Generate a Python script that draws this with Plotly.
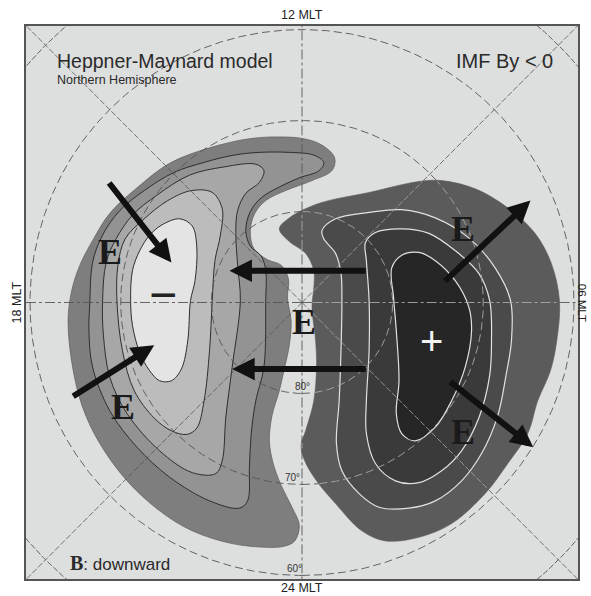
import numpy as np
import plotly.graph_objects as go

# ---------------------------------------------------------------------------
# Polar-view coordinates: degrees of colatitude from the magnetic pole,
# x toward 06 MLT (dawn), y toward 12 MLT (noon).
# ---------------------------------------------------------------------------

# Negative (dusk) potential cell, outermost outline first
NEG_OUTER = [(-25.8, -2.0), (-25.4, 1.3), (-24.5, 4.1), (-23.1, 6.8), (-21.2, 9.8),
             (-18.2, 12.6), (-14.6, 15.3), (-10.2, 17.0), (-5.8, 18.0), (-2.5, 18.2),
             (0.2, 18.0), (2.2, 17.3), (3.6, 15.9), (3.3, 14.5), (1.1, 13.4),
             (-1.8, 12.3), (-4.0, 11.2), (-5.2, 9.8), (-5.7, 7.9), (-5.3, 5.9),
             (-3.8, 4.7), (-2.3, 4.1), (-1.5, 2.6), (-1.6, 0.5), (-1.2, -2.0),
             (-1.4, -4.7), (-2.0, -7.5), (-2.5, -9.7), (-3.3, -12.4), (-3.6, -15.2),
             (-3.2, -17.6), (-2.3, -20.1), (-1.1, -22.5), (-0.3, -24.5), (-0.8, -26.2),
             (-2.0, -26.8), (-4.0, -26.9), (-7.7, -26.5), (-12.1, -25.1), (-15.7, -22.9),
             (-19.3, -19.6), (-22.3, -15.5), (-24.2, -11.5), (-25.3, -7.1)]
NEG_C1 = [(-23.4, 0.0), (-23.5, -3.1), (-23.1, -7.1), (-21.2, -11.9), (-18.2, -15.9),
          (-14.6, -19.2), (-10.2, -21.8), (-6.9, -22.6), (-6.0, -21.8), (-5.8, -18.1),
          (-5.6, -14.4), (-5.1, -10.8), (-4.2, -7.1), (-4.0, 0.2), (-4.0, 3.5),
          (-4.5, 5.1), (-5.7, 6.2), (-6.2, 7.9), (-5.7, 10.0), (-4.5, 11.5),
          (-2.5, 12.7), (-0.3, 13.7), (1.9, 14.5), (2.4, 15.4), (1.3, 16.2),
          (-1.4, 16.5), (-4.7, 16.5), (-7.5, 16.2), (-10.8, 15.4), (-14.1, 14.3),
          (-17.4, 12.3), (-20.1, 10.1), (-22.0, 7.4), (-23.1, 4.4)]
NEG_C2 = [(-22.0, 0.0), (-21.9, -3.6), (-21.2, -8.2), (-19.3, -12.2), (-15.7, -16.3),
          (-12.1, -18.7), (-9.5, -18.8), (-8.8, -17.4), (-8.4, -12.6), (-7.7, -7.1),
          (-6.8, 0.2), (-7.1, 4.1), (-7.3, 7.7), (-7.1, 10.1), (-6.2, 12.0),
          (-4.7, 13.2), (-4.2, 14.5), (-5.1, 15.2), (-8.6, 14.9), (-12.4, 14.0),
          (-16.0, 11.8), (-18.7, 9.6), (-20.5, 7.0), (-21.6, 4.4)]
NEG_C3 = [(-20.4, 0.0), (-19.8, -5.3), (-18.5, -9.7), (-16.3, -12.7), (-14.4, -14.1),
          (-12.7, -14.5), (-11.6, -13.8), (-10.8, -10.8), (-10.2, -5.3), (-9.9, 0.2),
          (-9.6, 4.6), (-9.0, 7.4), (-8.8, 10.3), (-9.9, 12.1), (-12.2, 12.3),
          (-14.8, 11.2), (-17.4, 9.2), (-19.5, 7.0), (-20.3, 4.1)]
NEG_CORE = [(-18.9, 0.2), (-18.7, -2.5), (-17.9, -5.5), (-16.8, -7.5), (-15.7, -8.6),
            (-14.4, -8.6), (-13.3, -7.3), (-12.6, -4.2), (-12.3, 0.2), (-11.8, 2.4),
            (-11.6, 6.0), (-12.1, 8.4), (-13.5, 9.2), (-15.5, 8.5), (-16.8, 7.4),
            (-17.9, 5.7), (-18.7, 3.5)]

# Positive (dawn) potential cell, outermost outline first
POS_OUTER = [(28.4, 0.2), (28.1, -4.2), (27.4, -7.5), (26.0, -10.8), (24.9, -14.4),
             (22.7, -17.7), (20.2, -21.0), (16.5, -24.3), (12.9, -25.8), (9.2, -26.2),
             (6.6, -25.1), (3.7, -22.1), (1.6, -19.6), (0.3, -17.4), (-0.1, -15.7),
             (0.4, -14.1), (1.3, -10.8), (1.6, -7.1), (1.5, -4.2), (1.1, -0.5),
             (1.3, 1.6), (1.3, 3.5), (0.4, 5.4), (-1.4, 6.7), (-2.5, 8.1),
             (-1.4, 9.3), (1.9, 10.9), (7.4, 12.1), (12.9, 13.3), (15.4, 13.4),
             (19.1, 12.5), (22.7, 10.4), (25.7, 7.6), (27.5, 4.3)]
POS_C1 = [(23.0, 0.2), (23.1, -4.2), (22.5, -8.0), (21.6, -12.4), (19.8, -16.6),
          (17.6, -19.6), (14.7, -21.8), (11.8, -22.6), (8.5, -22.5), (6.3, -21.0),
          (4.4, -18.5), (3.8, -15.5), (4.1, -10.8), (4.3, -5.3), (4.4, 0.2),
          (4.3, 3.2), (3.7, 5.4), (2.4, 7.0), (2.2, 7.9), (3.7, 9.2),
          (7.4, 9.9), (11.0, 10.2), (14.7, 9.3), (18.4, 7.1), (21.3, 3.8)]
POS_C2 = [(20.7, 0.2), (20.9, -4.2), (20.7, -8.0), (19.5, -12.7), (17.6, -16.3),
          (15.4, -18.5), (12.9, -19.8), (10.3, -19.6), (8.1, -17.7), (7.1, -14.4),
          (7.1, -10.8), (7.4, -5.3), (7.4, 0.2), (7.1, 4.6), (7.0, 6.6),
          (8.1, 7.7), (11.0, 8.1), (14.0, 7.6), (16.9, 5.7), (19.5, 3.2)]
POS_CORE = [(18.4, -0.5), (18.7, -3.1), (18.0, -7.1), (16.5, -10.8), (14.7, -13.7),
            (12.5, -15.2), (11.0, -14.4), (10.4, -12.2), (10.7, -8.6), (10.4, -3.1),
            (10.1, 0.5), (9.9, 3.8), (11.0, 5.2), (12.9, 5.5), (14.7, 4.6),
            (16.9, 2.4)]

NEG_LEVELS = [NEG_OUTER, NEG_C1, NEG_C2, NEG_C3, NEG_CORE]
NEG_FILLS = ["#7e7e7e", "#939393", "#a7a7a7", "#bcbcbc", "#e4e4e4"]
POS_LEVELS = [POS_OUTER, POS_C1, POS_C2, POS_CORE]
POS_FILLS = ["#5b5b5b", "#4a4a4a", "#3a3a3a", "#262626"]

# Electric field arrows: (tail, head)
E_ARROWS = [((-21.4, 13.3), (-14.4, 4.4)), ((-25.4, -10.4), (-16.3, -4.7)),
            ((7.2, 3.5), (-8.0, 3.5)), ((7.2, -7.3), (-7.7, -7.3)),
            ((15.6, 2.2), (25.2, 11.2)), ((16.2, -8.6), (25.5, -15.9))]
E_LABELS = [(-21.2, 5.6), (-19.7, -11.5), (0.2, -2.1), (17.8, 8.1), (17.8, -14.2)]

# Grid: latitude circles, MLT meridians
LAT_CIRCLES = [80, 70, 60, 50]
LAT_LABELS = [80, 70, 60]
LAT_LABEL_DX = [0.1, -1.0, -0.8]
MLT_MAIN = [0, 6, 12, 18]
MLT_DIAG = [3, 9, 15, 21]
MLT_LABELS = {"12 MLT": (0.5, 1.0205, 0, 12.5), "24 MLT": (0.5, -0.0165, 0, 12.5),
              "18 MLT": (-0.0165, 0.5, -90, 12.5), "06 MLT": (1.0085, 0.5, 90, 11.5)}

HALF = 30.44  # half width of the square view, degrees


def closed(pts):
    xs = [p[0] for p in pts] + [pts[0][0]]
    ys = [p[1] for p in pts] + [pts[0][1]]
    return xs, ys


def inside_poly(px, py, poly):
    xs = np.array([p[0] for p in poly])
    ys = np.array([p[1] for p in poly])
    res = np.zeros(px.shape, dtype=bool)
    j = len(xs) - 1
    for i in range(len(xs)):
        crosses = (ys[i] > py) != (ys[j] > py)
        xint = (xs[j] - xs[i]) * (py - ys[i]) / (ys[j] - ys[i] + 1e-12) + xs[i]
        res ^= crosses & (px < xint)
        j = i
    return res


fig = go.Figure()

# contour cells
for k, (pts, col) in enumerate(zip(NEG_LEVELS, NEG_FILLS)):
    xs, ys = closed(pts)
    fig.add_trace(go.Scatter(
        x=xs, y=ys, mode="lines", fill="toself", fillcolor=col,
        line=dict(color="#5a5a5a" if k == 0 else "#2e2e2e",
                  width=0.7 if k == 0 else 1.0, shape="spline", smoothing=1.0),
        hoverinfo="skip"))
for k, (pts, col) in enumerate(zip(POS_LEVELS, POS_FILLS)):
    xs, ys = closed(pts)
    fig.add_trace(go.Scatter(
        x=xs, y=ys, mode="lines", fill="toself", fillcolor=col,
        line=dict(color=col if k == 0 else "#e2e2e2",
                  width=0.6 if k == 0 else 1.2, shape="spline", smoothing=1.0),
        hoverinfo="skip"))


def grid_line(x, y, dash, width):
    x = np.asarray(x, float)
    y = np.asarray(y, float)
    ins = inside_poly(x, y, POS_OUTER)
    fig.add_trace(go.Scatter(x=np.where(ins, np.nan, x), y=np.where(ins, np.nan, y),
                             mode="lines", line=dict(color="#555555", width=width, dash=dash),
                             hoverinfo="skip"))
    fig.add_trace(go.Scatter(x=np.where(ins, x, np.nan), y=np.where(ins, y, np.nan),
                             mode="lines", line=dict(color="#a8a8a8", width=width, dash=dash),
                             hoverinfo="skip"))


theta = np.linspace(0, 2 * np.pi, 1441)
for lat in LAT_CIRCLES:
    r = 90 - lat
    grid_line(r * np.sin(theta), -r * np.cos(theta),
              "8px,4px" if lat >= 60 else "6px,2px", 0.9)

rr = np.linspace(0, 45, 500)
for mlt in MLT_MAIN:
    a = np.deg2rad(mlt * 15)
    grid_line(rr * np.sin(a), -rr * np.cos(a), "10px,3px,3px,3px", 0.9)
for mlt in MLT_DIAG:
    a = np.deg2rad(mlt * 15)
    grid_line(rr * np.sin(a), -rr * np.cos(a), "6px,2px", 0.8)

annotations = []

# field arrows
for (tx, ty), (hx, hy) in E_ARROWS:
    annotations.append(dict(x=hx, y=hy, ax=tx, ay=ty, xref="x", yref="y",
                            axref="x", ayref="y", text="", showarrow=True,
                            arrowhead=2, arrowsize=0.75, arrowwidth=6,
                            arrowcolor="#111111", standoff=0))

for ex, ey in E_LABELS:
    annotations.append(dict(x=ex, y=ey, xref="x", yref="y", text="E", showarrow=False,
                            xanchor="center", yanchor="middle",
                            font=dict(family="Liberation Serif, Times New Roman, serif",
                                      size=36, color="#1a1a1a", weight="bold")))

# potential signs
annotations.append(dict(x=-15.3, y=0.9, xref="x", yref="y", text="\u2212", showarrow=False,
                        xanchor="center", yanchor="middle",
                        font=dict(family="Liberation Sans, Arial", size=48, color="#222222")))
annotations.append(dict(x=14.3, y=-4.2, xref="x", yref="y", text="+", showarrow=False,
                        xanchor="center", yanchor="middle",
                        font=dict(family="Liberation Sans, Arial", size=40, color="#f2f2f2")))

# latitude labels
for lat, dx in zip(LAT_LABELS, LAT_LABEL_DX):
    annotations.append(dict(x=dx, y=-(90 - lat) + 0.8, xref="x", yref="y",
                            text=f"{lat}\u00b0", showarrow=False,
                            xanchor="center", yanchor="middle",
                            font=dict(family="Liberation Sans, Arial", size=10, color="#333333")))

# MLT labels
for txt, (px, py, ang, fs) in MLT_LABELS.items():
    annotations.append(dict(x=px, y=py, xref="paper", yref="paper", text=txt,
                            showarrow=False, textangle=ang,
                            xanchor="center", yanchor="middle",
                            font=dict(family="Liberation Sans, Arial", size=fs, color="#222222")))

# headings
annotations += [
    dict(x=0.052, y=0.937, xref="paper", yref="paper", xanchor="left", yanchor="middle",
         text="Heppner-Maynard model", showarrow=False,
         font=dict(family="Liberation Sans, Arial", size=19.5, color="#2a2a2a")),
    dict(x=0.052, y=0.902, xref="paper", yref="paper", xanchor="left", yanchor="middle",
         text="Northern Hemisphere", showarrow=False,
         font=dict(family="Liberation Sans, Arial", size=12.5, color="#2a2a2a")),
    dict(x=0.9585, y=0.937, xref="paper", yref="paper", xanchor="right", yanchor="middle",
         text="IMF By &lt; 0", showarrow=False,
         font=dict(family="Liberation Sans, Arial", size=20, color="#2a2a2a")),
    dict(x=0.0758, y=0.029, xref="paper", yref="paper", xanchor="left", yanchor="middle",
         text="<span style='font-family:Liberation Serif;font-weight:bold;font-size:20px'>B</span>: downward",
         showarrow=False,
         font=dict(family="Liberation Sans, Arial", size=17, color="#2a2a2a")),
]

fig.update_layout(
    width=591, height=596,
    margin=dict(l=26, r=11, t=26, b=17),
    paper_bgcolor="white", plot_bgcolor="#dddede",
    showlegend=False, hovermode=False,
    annotations=annotations,
)
fig.update_xaxes(range=[-HALF, HALF], showgrid=False, zeroline=False, showticklabels=False,
                 ticks="", showline=True, mirror=True, linecolor="#555555", linewidth=1.5)
fig.update_yaxes(range=[-30.39, 30.39], showgrid=False, zeroline=False, showticklabels=False,
                 ticks="", showline=True, mirror=True, linecolor="#555555", linewidth=1.5)

fig.write_html("out.html")
